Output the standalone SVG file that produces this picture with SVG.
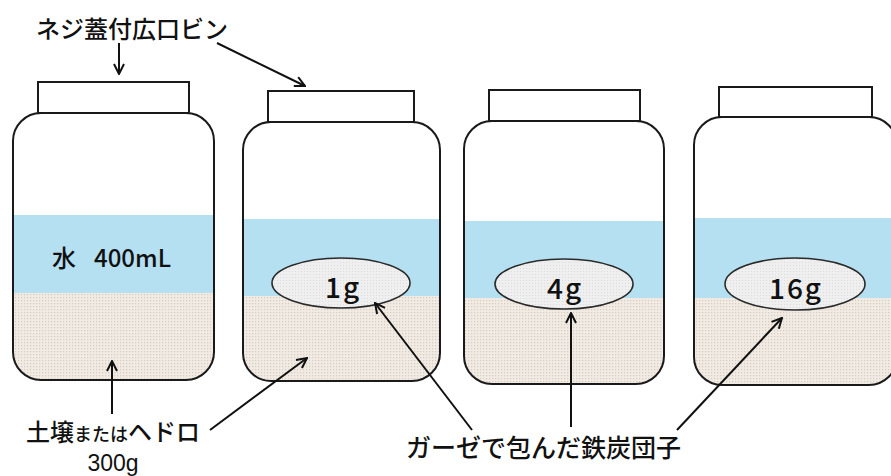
<svg xmlns="http://www.w3.org/2000/svg" width="891" height="476" viewBox="0 0 891 476">
  <style>
    .outline { fill: none; stroke: #1a1a1a; stroke-width: 2; }
    .lid { fill: #ffffff; stroke: #1a1a1a; stroke-width: 2; }
    .water { fill: #b5e0f1; }
    .soil { fill: url(#soilDots); }
    .ball { fill: url(#ballDots); stroke: #2a2a2a; stroke-width: 1.6; }
    .label { font-family: "Noto Sans CJK JP", "Liberation Sans", sans-serif; fill: #111111; font-weight: 500; }
    .latin { font-family: "Liberation Sans", "Noto Sans CJK JP", sans-serif; fill: #111111; }
    .mass { font-size: 28px; letter-spacing: 2px; }
    .conn { fill: none; stroke: #111111; stroke-width: 2; marker-end: url(#arrow); }
  </style>
  <defs>
    <pattern id="soilDots" width="3" height="3" patternUnits="userSpaceOnUse">
      <rect width="3" height="3" fill="#f1ebe3"/>
      <rect x="0" y="0" width="1.2" height="1.2" fill="#d6ccc0"/>
    </pattern>
    <pattern id="ballDots" width="3" height="3" patternUnits="userSpaceOnUse">
      <rect width="3" height="3" fill="#efefef"/>
      <rect x="1" y="1" width="1" height="1" fill="#dcdcdc"/>
    </pattern>
    <marker id="arrow" viewBox="0 0 12 12" refX="11" refY="6" markerWidth="12" markerHeight="12" markerUnits="userSpaceOnUse" orient="auto">
      <polyline points="1,1 11,6 1,11" fill="none" stroke="#111111" stroke-width="2"/>
    </marker>
    <clipPath id="clip1"><rect x="13" y="113" width="201" height="267" rx="28"/></clipPath>
    <clipPath id="clip2"><rect x="243" y="122" width="197" height="259" rx="28"/></clipPath>
    <clipPath id="clip3"><rect x="464" y="121" width="200" height="263" rx="28"/></clipPath>
    <clipPath id="clip4"><rect x="694" y="117" width="203" height="268" rx="28"/></clipPath>
  </defs>

  <rect width="891" height="476" fill="#ffffff"/>

  <!-- jar 1: water and soil only -->
  <g id="jar1">
    <rect class="lid" x="38" y="82" width="151" height="31"/>
    <g clip-path="url(#clip1)">
      <rect class="water" x="13" y="215" width="201" height="78"/>
      <rect class="soil" x="13" y="293" width="201" height="90"/>
    </g>
    <rect class="outline" x="13" y="113" width="201" height="267" rx="28"/>
    <text class="label" y="267" font-size="24"><tspan x="52">水</tspan><tspan x="94">400mL</tspan></text>
  </g>

  <!-- jar 2: 1 g ball -->
  <g id="jar2">
    <rect class="lid" x="268" y="91" width="146" height="31"/>
    <g clip-path="url(#clip2)">
      <rect class="water" x="243" y="219" width="197" height="77"/>
      <rect class="soil" x="243" y="296" width="197" height="90"/>
    </g>
    <rect class="outline" x="243" y="122" width="197" height="259" rx="28"/>
    <ellipse class="ball" cx="341" cy="283" rx="69" ry="25"/>
    <text class="label mass" x="343" y="298" text-anchor="middle">1g</text>
  </g>

  <!-- jar 3: 4 g ball -->
  <g id="jar3">
    <rect class="lid" x="489" y="90" width="151" height="31"/>
    <g clip-path="url(#clip3)">
      <rect class="water" x="464" y="221" width="200" height="77"/>
      <rect class="soil" x="464" y="298" width="200" height="90"/>
    </g>
    <rect class="outline" x="464" y="121" width="200" height="263" rx="28"/>
    <ellipse class="ball" cx="564" cy="284" rx="69" ry="25"/>
    <text class="label mass" x="565" y="299" text-anchor="middle">4g</text>
  </g>

  <!-- jar 4: 16 g ball -->
  <g id="jar4">
    <rect class="lid" x="719" y="87" width="153" height="30"/>
    <g clip-path="url(#clip4)">
      <rect class="water" x="694" y="218" width="203" height="80"/>
      <rect class="soil" x="694" y="298" width="203" height="90"/>
    </g>
    <rect class="outline" x="694" y="117" width="203" height="268" rx="28"/>
    <ellipse class="ball" cx="795" cy="284" rx="70" ry="26"/>
    <text class="label mass" x="796" y="299" text-anchor="middle">16g</text>
  </g>

  <!-- captions -->
  <g id="label-bottle">
    <text class="label" x="36" y="38" font-size="24">ネジ蓋付広口ビン</text>
  </g>
  <g id="label-soil">
    <text class="label" x="26" y="441" font-size="24">土壌<tspan font-size="18">または</tspan>ヘドロ</text>
    <text class="latin" x="113" y="471" font-size="23" text-anchor="middle">300g</text>
  </g>
  <g id="label-ball">
    <text class="label" x="406" y="457" font-size="25">ガーゼで包んだ鉄炭団子</text>
  </g>

  <!-- connectors -->
  <g id="connectors">
    <line class="conn" x1="119" y1="43" x2="119" y2="74"/>
    <line class="conn" x1="217" y1="43" x2="305" y2="86"/>
    <line class="conn" x1="112" y1="414" x2="112" y2="361"/>
    <line class="conn" x1="210" y1="430" x2="307" y2="358"/>
    <line class="conn" x1="472" y1="430" x2="375" y2="303"/>
    <line class="conn" x1="571" y1="427" x2="571" y2="313"/>
    <line class="conn" x1="677" y1="430" x2="782" y2="318"/>
  </g>
</svg>
